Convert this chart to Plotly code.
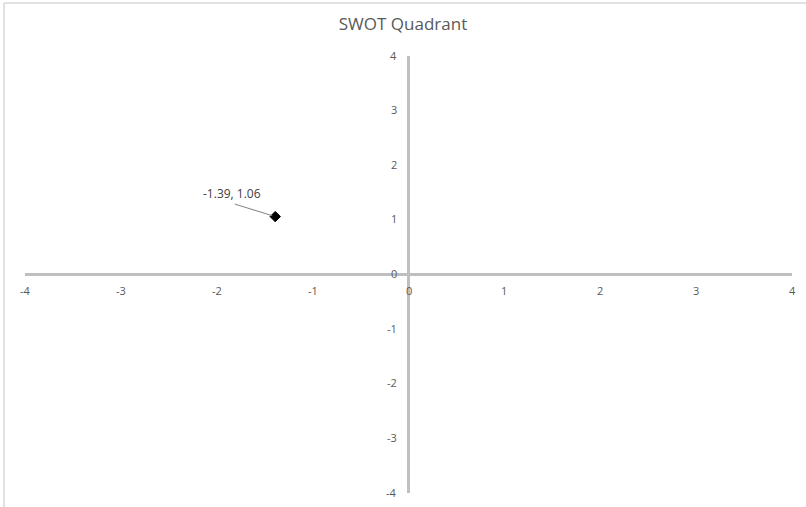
import plotly.graph_objects as go

# Data
point_x = [-1.39]
point_y = [1.06]
point_labels = ["-1.39, 1.06"]
x_ticks = [-4, -3, -2, -1, 0, 1, 2, 3, 4]
y_ticks = [-4, -3, -2, -1, 0, 1, 2, 3, 4]
title_text = "SWOT Quadrant"

W, H = 806, 507
ML, MR, MT, MB = 25, 14, 56, 14
PW, PH = W - ML - MR, H - MT - MB

FONT = "Open Sans, Liberation Sans, sans-serif"
TXT = "#595959"

fig = go.Figure()
fig.add_trace(go.Scatter(
    x=point_x, y=point_y, mode="markers",
    marker=dict(symbol="diamond", size=8, color="black", line=dict(color="#000", width=1)),
    cliponaxis=False, showlegend=False, hoverinfo="skip",
))

annotations = []
for v in x_ticks:
    annotations.append(dict(x=v, y=0, xref="x", yref="y", text=str(v), showarrow=False,
                            yshift=-16, font=dict(size=11, color=TXT, family=FONT)))
for v in y_ticks:
    annotations.append(dict(x=0, y=v, xref="x", yref="y", text=str(v), showarrow=False,
                            xanchor="right", xshift=-10, yshift=1,
                            font=dict(size=11, color=TXT, family=FONT)))
for px, py, t in zip(point_x, point_y, point_labels):
    # leader line
    annotations.append(dict(x=px, y=py, xref="x", yref="y", text="", showarrow=True,
                            arrowhead=0, arrowwidth=1, arrowcolor="#808080",
                            ax=-42, ay=-13, standoff=3))
    # label text
    annotations.append(dict(x=px, y=py, xref="x", yref="y", text=t, showarrow=False,
                            xshift=-43, yshift=23,
                            font=dict(size=12, color="#404040", family=FONT)))

# chart border (left and top edges visible)
bx = (4 - ML) / PW
by = 1 + (MT - 3) / PH
shapes = [
    dict(type="line", xref="paper", yref="paper", x0=bx, x1=bx, y0=-1, y1=by,
         line=dict(color="#d9d9d9", width=1.5)),
    dict(type="line", xref="paper", yref="paper", x0=bx, x1=2, y0=by, y1=by,
         line=dict(color="#d9d9d9", width=1.5)),
]

fig.update_layout(
    width=W, height=H,
    margin=dict(l=ML, r=MR, t=MT, b=MB, autoexpand=False),
    paper_bgcolor="white", plot_bgcolor="white",
    title=dict(text=title_text, x=0.5, xanchor="center", y=1 - 24 / H, yanchor="middle",
               font=dict(size=17, color=TXT, family=FONT)),
    xaxis=dict(range=[-4, 4], showgrid=False, showticklabels=False, ticks="",
               zeroline=True, zerolinecolor="#bfbfbf", zerolinewidth=2.5, showline=False,
               fixedrange=True),
    yaxis=dict(range=[-4, 4], showgrid=False, showticklabels=False, ticks="",
               zeroline=True, zerolinecolor="#bfbfbf", zerolinewidth=2.5, showline=False,
               fixedrange=True),
    annotations=annotations,
    shapes=shapes,
)

fig.write_html("out.html", config={"displayModeBar": False},
               post_script="document.body.style.margin='0';")
